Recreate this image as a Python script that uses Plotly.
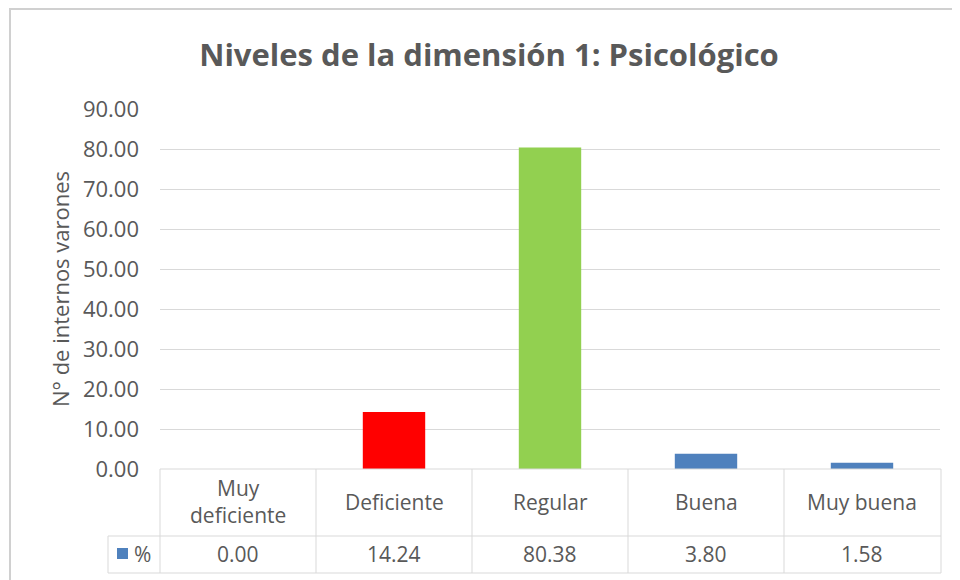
import plotly.graph_objects as go

# ---- data ----
categories = ["Muy deficiente", "Deficiente", "Regular", "Buena", "Muy buena"]
table_labels = ["Muy<br>deficiente", "Deficiente", "Regular", "Buena", "Muy buena"]
percent = [0.00, 14.24, 80.38, 3.80, 1.58]
bar_colors = ["#4F81BD", "#FF0000", "#92D050", "#4F81BD", "#4F81BD"]
series_name = "%"
title_text = "Niveles de la dimensión 1: Psicológico"
y_title = "N° de internos varones"
y_ticks = [0, 10, 20, 30, 40, 50, 60, 70, 80, 90]

# the page places the figure 8px from the top-left corner
OFF = 8
W, H = 960 - OFF, 580 - OFF
PL, PR, PT, PB = 160, 940, 109, 469          # plot area in page pixels
L, R, T, B = PL - OFF, 960 - PR, PT - OFF, 580 - PB
FONT = "Open Sans, Noto Sans, sans-serif"
GRAY = "#595959"
GRID = "#D9D9D9"


def px_x(p):
    return (p - PL) / (PR - PL)


def px_y(p):
    return (PB - p) / (PB - PT)


fig = go.Figure()
fig.add_trace(go.Bar(
    x=categories, y=percent, name=series_name,
    marker=dict(color=bar_colors, line=dict(width=0)),
    showlegend=False,
))

fig.update_layout(
    width=W, height=H,
    margin=dict(l=L, r=R, t=T, b=B),
    paper_bgcolor="white", plot_bgcolor="white",
    bargap=0.6,
    font=dict(family=FONT, color=GRAY),
    title=dict(text=title_text, x=(489 - OFF) / W, xanchor="center", xref="container",
               y=1 - (55 - OFF) / H, yanchor="middle", yref="container",
               font=dict(family=FONT, size=31, color=GRAY, weight="bold")),
    xaxis=dict(showticklabels=False, showgrid=False, zeroline=False,
               showline=False, ticks=""),
    yaxis=dict(range=[0, 90], tickvals=y_ticks,
               ticktext=[f"{v:.2f}" for v in y_ticks],
               showgrid=True, gridcolor=GRID, gridwidth=1,
               zeroline=False, showline=False, ticks="",
               ticklabelstandoff=20,
               tickfont=dict(family=FONT, size=22, color=GRAY),
               title=dict(text=y_title, standoff=7,
                          font=dict(family=FONT, size=22, color=GRAY))),
)

shapes = []
line = dict(color=GRID, width=1)
# outer chart border
shapes.append(dict(type="rect", xref="paper", yref="paper",
                   x0=px_x(10), x1=px_x(975), y0=px_y(595), y1=px_y(9),
                   line=dict(color="#D0D0D0", width=2), layer="below"))
# data table grid
col_edges = [160, 316, 472, 628, 784, 941]
shapes.append(dict(type="line", xref="paper", yref="paper",
                   x0=px_x(160), x1=px_x(941), y0=px_y(469), y1=px_y(469), line=line))
for yy in (536, 573):
    shapes.append(dict(type="line", xref="paper", yref="paper",
                       x0=px_x(108), x1=px_x(941), y0=px_y(yy), y1=px_y(yy), line=line))
for xx in col_edges:
    shapes.append(dict(type="line", xref="paper", yref="paper",
                       x0=px_x(xx), x1=px_x(xx), y0=px_y(469), y1=px_y(573), line=line))
shapes.append(dict(type="line", xref="paper", yref="paper",
                   x0=px_x(108), x1=px_x(108), y0=px_y(536), y1=px_y(573), line=line))
# legend key
shapes.append(dict(type="rect", xref="paper", yref="paper",
                   x0=px_x(117), x1=px_x(128), y0=px_y(559), y1=px_y(548),
                   fillcolor="#4F81BD", line=dict(width=0)))
fig.update_layout(shapes=shapes)

ann = []
for c, lab, v in zip(categories, table_labels, percent):
    ann.append(dict(x=c, xref="x", y=px_y(502), yref="paper", text=lab,
                    showarrow=False, xanchor="center", yanchor="middle",
                    font=dict(family=FONT, size=21, color=GRAY)))
    ann.append(dict(x=c, xref="x", y=px_y(554), yref="paper", text=f"{v:.2f}",
                    showarrow=False, xanchor="center", yanchor="middle",
                    font=dict(family=FONT, size=21, color=GRAY)))
ann.append(dict(x=px_x(132), xref="paper", y=px_y(554), yref="paper", text=series_name,
                showarrow=False, xanchor="left", yanchor="middle",
                font=dict(family=FONT, size=21, color=GRAY)))
fig.update_layout(annotations=ann)

fig.write_html("out.html")
